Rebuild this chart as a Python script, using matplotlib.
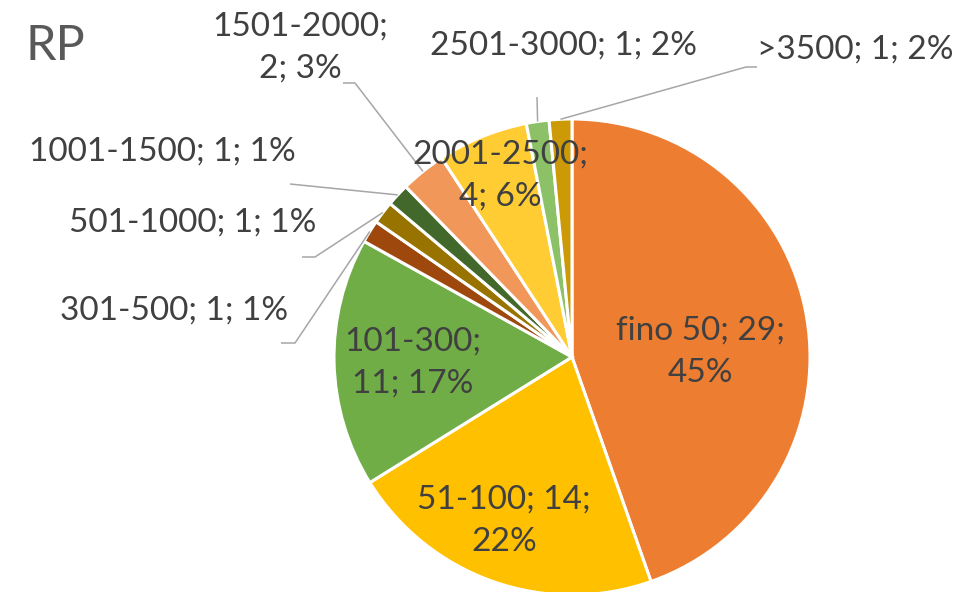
import matplotlib
matplotlib.use("Agg")
import matplotlib.pyplot as plt
import numpy as np

# ---- data ----
categories = ["fino 50", "51-100", "101-300", "301-500", "501-1000",
              "1001-1500", "1501-2000", "2001-2500", "2501-3000", ">3500"]
counts = [29, 14, 11, 1, 1, 1, 2, 4, 1, 1]
percent_labels = [45, 22, 17, 1, 1, 1, 3, 6, 2, 2]
colors = ["#ED7D31", "#FFC000", "#70AD47", "#9E480E", "#997300",
          "#43682B", "#F1975A", "#FFCD33", "#8CC168", "#CC9A06"]
title = "RP"

W, H = 974, 592
CX, CY, R = 572, 357, 238  # pie centre / radius in pixels

def px(x, y):
    return ((x - CX) / R, (CY - y) / R)

# label layout: (text-center px, wrap, leader path in px (label end, elbow) or None)
layout = {
    "fino 50":   ((700, 352), True,  None),
    "51-100":    ((504, 521), True,  None),
    "101-300":   ((413, 363), True,  None),
    "301-500":   ((174, 311), False, [(281, 343), (295, 343)]),
    "501-1000":  ((193, 223), False, [(302, 257), (315, 257)]),
    "1001-1500": ((162, 152), False, [(290, 184), (290, 184)]),
    "1501-2000": ((300, 48),  True,  [(343, 83), (355, 83)]),
    "2001-2500": ((500, 176), True,  None),
    "2501-3000": ((563, 46),  False, [(537, 97), (537, 97)]),
    ">3500":     ((855, 50),  False, [(757, 67), (746, 67)]),
}

fig = plt.figure(figsize=(W / 100, H / 100), dpi=100)
ax = fig.add_axes([0, 0, 1, 1])

wedges, _ = ax.pie(counts, colors=colors, startangle=90, counterclock=False,
                   radius=1.0, center=(0, 0), frame=True,
                   wedgeprops=dict(edgecolor="white", linewidth=2.2))
ax.set_xlim(-CX / R, (W - CX) / R)
ax.set_ylim((CY - H) / R, CY / R)
ax.set_aspect("auto")
ax.axis("off")

font = "Lato"
txtcol = "#404040"
for w, cat, cnt, pct in zip(wedges, categories, counts, percent_labels):
    (tx, ty), wrap, leader = layout[cat]
    if wrap:
        if cat in ("fino 50", "51-100"):
            s = f"{cat}; {cnt};\n{pct}%"
        else:
            s = f"{cat};\n{cnt}; {pct}%"
    else:
        s = f"{cat}; {cnt}; {pct}%"
    x, y = px(tx, ty)
    ax.text(x, y, s, ha="center", va="center", fontsize=24, family=font,
            color=txtcol, linespacing=1.5)
    if leader is not None:
        mid = np.deg2rad((w.theta1 + w.theta2) / 2)
        ex, ey = np.cos(mid), np.sin(mid)
        pts = [px(*p) for p in leader] + [(ex, ey)]
        ax.plot([p[0] for p in pts], [p[1] for p in pts], color="#A6A6A6",
                lw=1.1, solid_capstyle="butt")

tx, ty = px(26, 46)
ax.text(tx, ty, title, ha="left", va="center", fontsize=35, family=font,
        color="#595959")

fig.savefig("out.png", dpi=100)
